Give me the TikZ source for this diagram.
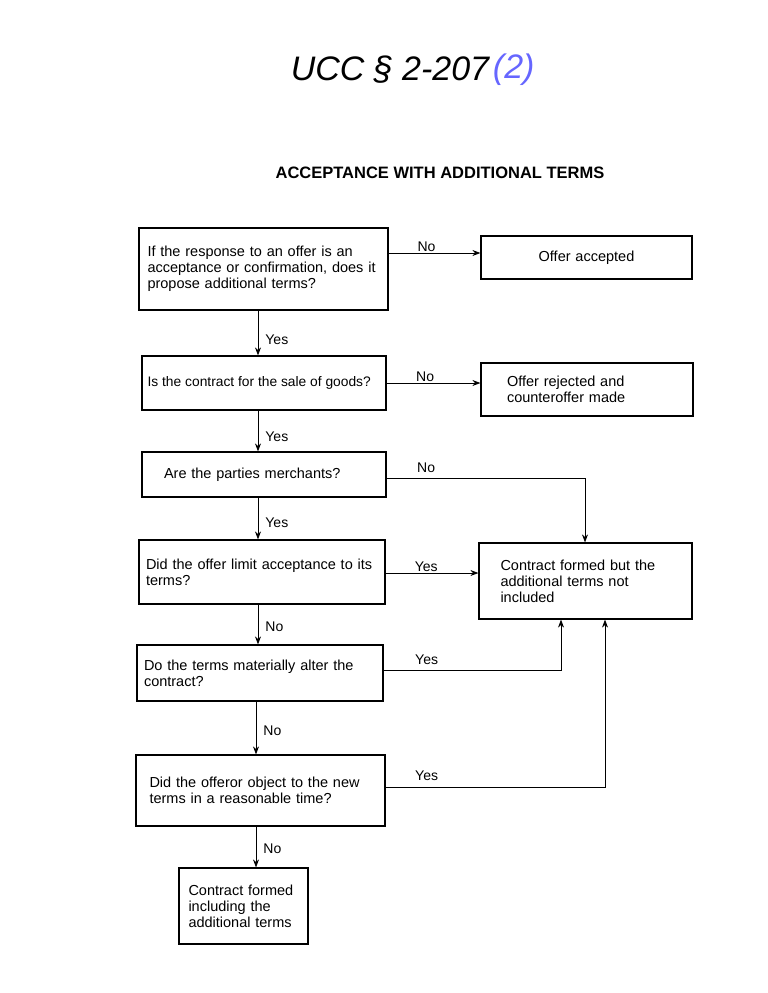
\documentclass[tikz,border=0pt]{standalone}
\usepackage{fontspec}
\setmainfont{Liberation Sans}
\usetikzlibrary{arrows.meta}
\begin{document}
\begin{tikzpicture}[x=1pt,y=-1pt,
  box/.style={draw,line width=1.2pt,rectangle,inner sep=5pt,font=\fontsize{14.5}{16}\selectfont,align=left},
  arr/.style={draw,line width=0.8pt,-{Stealth[length=8pt,width=6pt]}},
  lab/.style={font=\fontsize{14}{16}\selectfont,anchor=south west,inner sep=1pt},
  vlab/.style={font=\fontsize{14}{16}\selectfont,anchor=west,inner sep=1pt,xshift=6pt}]
\useasboundingbox (0,0) rectangle (768,993);
\node[font=\fontsize{34}{34}\selectfont\itshape] (ttl) at (390,70) {UCC \S\ 2-207};
\node[font=\fontsize{34}{34}\selectfont\itshape,text=blue!60,anchor=west,inner sep=0pt] (ttl2) at (ttl.east) {(2)};
\node[font=\bfseries\fontsize{16.5}{18}\selectfont] (head) at (440,173) {ACCEPTANCE WITH ADDITIONAL TERMS};
\node[box,minimum width=249,minimum height=82,text width=232] (b1) at (263.5,269) {If the response to an offer is an\\acceptance or confirmation, does it\\propose additional terms?};
\node[box,minimum width=211,minimum height=43,align=center,text width=190] (r1) at (586.5,257.5) {Offer accepted};
\node[draw,line width=1.2pt,minimum width=244,minimum height=54] (b2) at (264,383) {};
\node[font=\fontsize{13.8}{16}\selectfont,anchor=west,inner sep=0pt] (b2t) at ([xshift=6pt]b2.west) {Is the contract for the sale of goods?};
\node[box,minimum width=212,minimum height=53,text width=160] (r2) at (587,389.5) {Offer rejected and\\counteroffer made};
\node[box,minimum width=244,minimum height=45,text width=200] (b3) at (264,474.5) {Are the parties merchants?};
\node[box,minimum width=246,minimum height=64,text width=232] (b4) at (262,572) {Did the offer limit acceptance to its\\terms?};
\node[box,minimum width=213,minimum height=76,text width=170] (r4) at (585.5,581) {Contract formed but the\\additional terms not\\included};
\node[box,minimum width=246,minimum height=56,text width=232] (b5) at (260,673) {Do the terms materially alter the\\contract?};
\node[box,minimum width=249,minimum height=71,text width=222] (b6) at (260.5,790.5) {Did the offeror object to the new\\terms in a reasonable time?};
\node[box,minimum width=129,minimum height=76,text width=110] (b7) at (243.5,906) {Contract formed\\including the\\additional terms};
\draw[arr] (b1.east|-0,253) -- (r1.west|-0,253) node[lab,pos=0.3,anchor=south west] {No};
\draw[arr] (b1.south-|258,0) -- (b2.north-|258,0) node[vlab,pos=0.65] {Yes};
\draw[arr] (b2.east|-0,383) -- (r2.west|-0,383) node[lab,pos=0.3,anchor=south west] {No};
\draw[arr] (b2.south-|258,0) -- (b3.north-|258,0) node[vlab,pos=0.65] {Yes};
\draw[arr] (b3.east|-0,478) -- (585,478) -- (r4.north-|585,0);
\node[lab] (l3) at (416,474) {No};
\draw[arr] (b3.south-|258,0) -- (b4.north-|258,0) node[vlab,pos=0.6] {Yes};
\draw[arr] (b4.east|-0,573) -- (r4.west|-0,573) node[lab,pos=0.3,anchor=south west] {Yes};
\draw[arr] (b4.south-|258,0) -- (b5.north-|258,0) node[vlab,pos=0.55] {No};
\draw[arr] (b5.east|-0,670) -- (561,670) -- (r4.south-|561,0);
\node[lab] (l5) at (414,666) {Yes};
\draw[arr] (b5.south-|256,0) -- (b6.north-|256,0) node[vlab,pos=0.55] {No};
\draw[arr] (b6.east|-0,787) -- (605,787) -- (r4.south-|605,0);
\node[lab] (l6) at (414,782) {Yes};
\draw[arr] (b6.south-|256,0) -- (b7.north-|256,0) node[vlab,pos=0.55] {No};
\end{tikzpicture}
\end{document}
